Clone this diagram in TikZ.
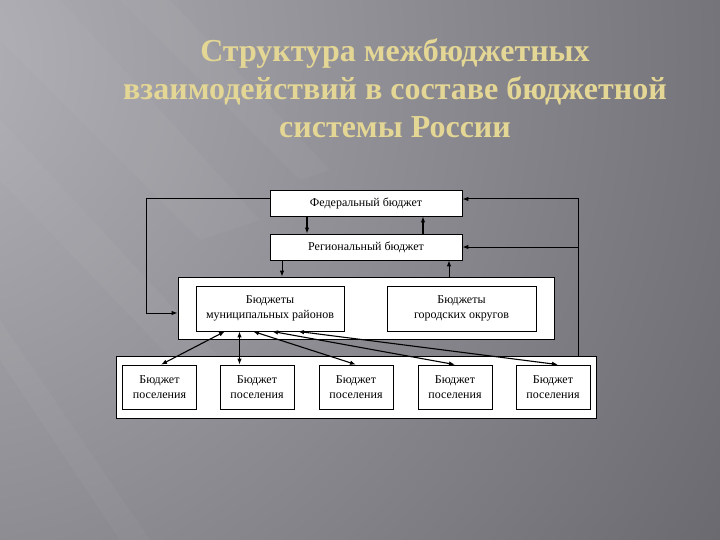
\documentclass[tikz,border=0pt]{standalone}
\usepackage{fontspec}
\setmainfont{Liberation Serif}
\usetikzlibrary{arrows.meta,calc}
\definecolor{bgdark}{RGB}{90,89,96}
\definecolor{bglight}{RGB}{178,178,184}
\definecolor{gold}{RGB}{228,214,148}
\begin{document}
\begin{tikzpicture}[x=1pt,y=-1pt,
  box/.style={draw=black, line width=0.8pt, fill=white, inner sep=0pt, align=center,
              font=\fontsize{12}{14.5}\selectfont},
  frame/.style={draw=black, line width=0.8pt, fill=white, inner sep=0pt},
  arr/.style={-{Latex[length=6pt,width=4.5pt]}, line width=1pt},
  darr/.style={{Latex[length=6pt,width=4.5pt]}-{Latex[length=6pt,width=4.5pt]}, line width=1.1pt},
  ttl/.style={font=\fontsize{32}{38}\bfseries\selectfont, text=gold, anchor=base, inner sep=0pt},
  streak/.style={fill=white, fill opacity=0.03, draw=none}]
\useasboundingbox (0,0) rectangle (720,540);
% background
\fill[bgdark] (0,0) rectangle (720,540);
\begin{scope}
  \clip (0,0) rectangle (720,540);
  \shade[inner color=bglight, outer color=bgdark] (-80,60) circle (1150);
  \fill[streak] (-40,0) -- (60,0) -- (260,220) -- (200,240) -- cycle;
  \fill[streak] (0,120) -- (0,180) -- (230,420) -- (240,380) -- cycle;
  \fill[streak] (0,320) -- (0,360) -- (120,540) -- (150,540) -- cycle;
  \fill[streak] (120,0) -- (170,0) -- (330,170) -- (300,180) -- cycle;
\end{scope}
% title
\node[ttl] (t1) at (395,62) {Структура межбюджетных};
\node[ttl] (t2) at (395,100) {взаимодействий в составе бюджетной};
\node[ttl] (t3) at (395,138) {системы России};
% frames
\node[frame, minimum width=376pt, minimum height=62pt] (mid) at (366,308) {};
\node[frame, minimum width=480pt, minimum height=62pt] (bot) at (356,387) {};
% boxes
\node[box, minimum width=192pt, minimum height=26pt] (fed) at (366,203) {Федеральный бюджет};
\node[box, minimum width=192pt, minimum height=26pt] (reg) at (366,247) {Региональный бюджет};
\node[box, minimum width=148pt, minimum height=45pt] (mun) at (270,308.5) {Бюджеты\\муниципальных районов};
\node[box, minimum width=149pt, minimum height=45pt] (city) at (461.5,308.5) {Бюджеты\\городских округов};
\node[box, minimum width=74pt, minimum height=44pt] (s1) at (159.5,387) {Бюджет\\поселения};
\node[box, minimum width=74pt, minimum height=44pt] (s2) at (257,387) {Бюджет\\поселения};
\node[box, minimum width=74pt, minimum height=44pt] (s3) at (356,387) {Бюджет\\поселения};
\node[box, minimum width=74pt, minimum height=44pt] (s4) at (455,387) {Бюджет\\поселения};
\node[box, minimum width=74pt, minimum height=44pt] (s5) at (553,387) {Бюджет\\поселения};
% connectors
\coordinate (rc) at (578,199);
\draw[arr] ([yshift=4pt]fed.west) -| ([xshift=-31pt,yshift=-5pt]mid.west) -- ([yshift=-5pt]mid.west);
\draw[arr] (bot.north -| rc) -- (rc) -- ([yshift=4pt]fed.east);
\draw[arr] (rc |- reg.east) -- (reg.east);
\draw[arr, line width=1.3pt] ([xshift=-59pt]fed.south) -- ([xshift=-59pt]reg.north);
\draw[arr, line width=1.3pt] ([xshift=57pt]reg.north) -- ([xshift=57pt]fed.south);
\draw[arr] ([xshift=-84pt]reg.south) -- ([xshift=-84pt]mid.north);
\draw[arr] ([xshift=83pt]mid.north) -- ([xshift=83pt]reg.south);
\draw[darr] ([xshift=-45pt]mun.south) -- ([xshift=1.5pt]s1.north);
\draw[darr] ([xshift=-30.5pt]mun.south) -- ([xshift=-17.5pt]s2.north);
\draw[darr] ([xshift=-17pt]mun.south) -- (s3.north);
\draw[darr] ([xshift=2pt]mun.south) -- (s4.north);
\draw[darr] ([xshift=28pt]mun.south) -- ([xshift=5pt]s5.north);
\end{tikzpicture}
\end{document}
